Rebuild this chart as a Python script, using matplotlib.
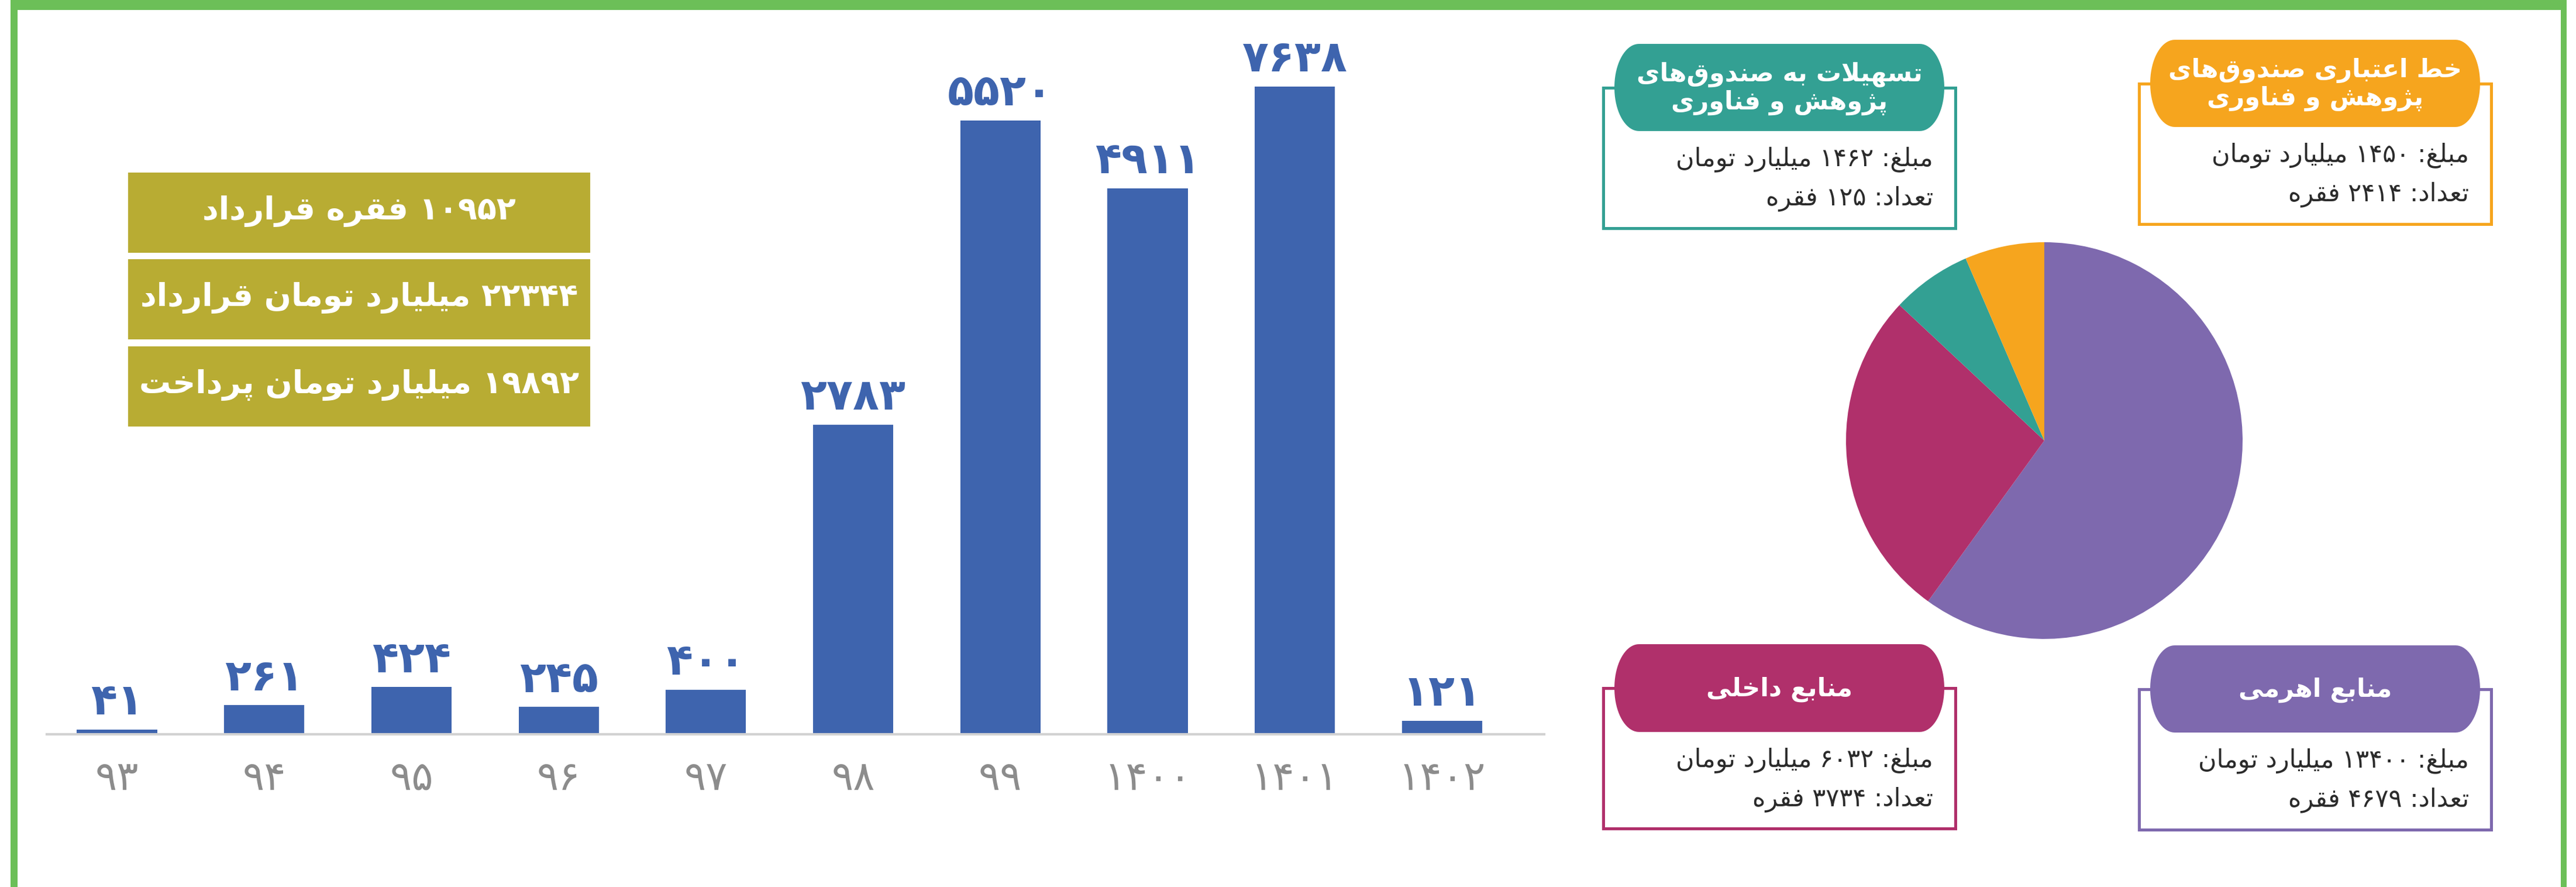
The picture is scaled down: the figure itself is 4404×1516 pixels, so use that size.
import re
import unicodedata
import numpy as np
import matplotlib
matplotlib.use("Agg")
import matplotlib.pyplot as plt
from matplotlib.patches import Rectangle, Polygon

# ---- data ----
years = [93, 94, 95, 96, 97, 98, 99, 1400, 1401, 1402]
contracts = [41, 261, 424, 245, 400, 2783, 5520, 4911, 7638, 121]

summary_lines = ["۱۰۹۵۲ فقره قرارداد",
                 "۲۲۳۴۴ میلیارد تومان قرارداد",
                 "۱۹۸۹۲ میلیارد تومان پرداخت"]

sources = ["منابع اهرمی", "منابع داخلی",
           "تسهیلات به صندوق‌های\nپژوهش و فناوری",
           "خط اعتباری صندوق‌های\nپژوهش و فناوری"]
amounts = [13400, 6032, 1462, 1450]
counts = [4679, 3734, 125, 2414]
colors = ["#7E69AE", "#B0306B", "#33A093", "#F6A51E"]

BAR_COLOR = "#3E64AE"
OLIVE = "#B8AC33"
GREEN = "#6CBF58"
FA_DIGITS = str.maketrans("0123456789", "۰۱۲۳۴۵۶۷۸۹")

# letters that never connect to the following letter
NO_LEFT = set("اآأإدذرزژوؤة")


def is_letter(ch):
    return unicodedata.name(ch, "").startswith("ARABIC LETTER")


def pres_form(ch, form):
    try:
        return unicodedata.lookup(unicodedata.name(ch) + " " + form + " FORM")
    except KeyError:
        return ch


def shape_line(text):
    out = []
    i, n = 0, len(text)
    while i < n:
        ch = text[i]
        if not is_letter(ch):
            if ch != "\u200c":
                out.append(ch)
            i += 1
            continue
        prev = text[i - 1] if i > 0 else ""
        jp = bool(prev) and is_letter(prev) and prev not in NO_LEFT
        if ch == "ل" and i + 1 < n and text[i + 1] == "ا":
            f = "FINAL" if jp else "ISOLATED"
            out.append(unicodedata.lookup("ARABIC LIGATURE LAM WITH ALEF " + f + " FORM"))
            i += 2
            continue
        nxt = text[i + 1] if i + 1 < n else ""
        jn = bool(nxt) and is_letter(nxt) and ch not in NO_LEFT
        if jp and jn:
            f = "MEDIAL"
        elif jn:
            f = "INITIAL"
        elif jp:
            f = "FINAL"
        else:
            f = "ISOLATED"
        out.append(pres_form(ch, f))
        i += 1
    s = "".join(out)[::-1]
    # numbers keep left-to-right order
    return re.sub(r"[۰-۹0-9]+", lambda m: m.group(0)[::-1], s)


def fa(text):
    return "\n".join(shape_line(t) for t in text.split("\n"))


def fa_num(v):
    return str(v).translate(FA_DIGITS)


def pill(x0, y0, w, h, rx, color):
    # flat top/bottom, elliptical left and right ends
    t = np.linspace(-np.pi / 2, np.pi / 2, 40)
    ry = h / 2
    cyy = y0 + ry
    right = np.column_stack([x0 + w - rx + rx * np.cos(t), cyy + ry * np.sin(t)])
    left = np.column_stack([x0 + rx - rx * np.cos(t[::-1]), cyy + ry * np.sin(t[::-1])])
    return Polygon(np.vstack([right, left]), closed=True, facecolor=color, lw=0)


W, H = 4404, 1516
fig = plt.figure(figsize=(W / 100, H / 100), dpi=100)
fig.patch.set_facecolor("white")

# ---- bar chart ----
ax = fig.add_axes([80 / W, 1 - 1255 / H, (2640 - 80) / W, (1255 - 148) / H])
ax.patch.set_alpha(0)
x = list(range(len(years)))
ymax = 5826
ax.bar(x, contracts, width=0.545, color=BAR_COLOR)
ax.set_xlim(-0.477, 9.694)
ax.set_ylim(0, ymax)
for xi, v in zip(x, contracts):
    ax.annotate(fa_num(v), (xi, min(v, ymax)), xytext=(0, 7), textcoords="offset points",
                ha="center", va="bottom", fontsize=53, fontweight="bold",
                color=BAR_COLOR, annotation_clip=False)
ax.set_xticks(x)
ax.set_xticklabels([fa_num(y) for y in years], fontsize=50, color="#8C8C8C")
ax.tick_params(axis="x", length=0, pad=30)
ax.set_yticks([])
for s in ["left", "right", "top"]:
    ax.spines[s].set_visible(False)
ax.spines["bottom"].set_color("#D2D2D2")
ax.spines["bottom"].set_linewidth(3)

# ---- pie ----
cx, cy, r = 3495, 753, 339
pax = fig.add_axes([(cx - r) / W, 1 - (cy + r) / H, 2 * r / W, 2 * r / H])
pax.pie(amounts, colors=colors, startangle=90, counterclock=False,
        wedgeprops=dict(linewidth=0))
pax.set_xlim(-1, 1)
pax.set_ylim(-1, 1)
pax.set_aspect("equal")

# ---- overlay in pixel coordinates ----
ov = fig.add_axes([0, 0, 1, 1], zorder=5)
ov.set_xlim(0, W)
ov.set_ylim(H, 0)
ov.axis("off")
ov.patch.set_alpha(0)

# green frame
ov.add_patch(Rectangle((18, 0), 4388 - 18, 17, color=GREEN, lw=0))
ov.add_patch(Rectangle((18, 0), 12, H, color=GREEN, lw=0))
ov.add_patch(Rectangle((4378, 0), 10, H, color=GREEN, lw=0))

# olive summary boxes
box_tops = [295, 443, 592]
for top, line in zip(box_tops, summary_lines):
    ov.add_patch(Rectangle((219, top), 1009 - 219, 137, color=OLIVE, lw=0))
    ov.text(614, top + 66, fa(line), ha="center", va="center",
            fontsize=39, fontweight="bold", color="white")

# legend cards: (left, header top, header bottom, body bottom)
cards = [(3657, 1103, 1252, 1418),   # purple
         (2741, 1101, 1251, 1416),   # magenta
         (2741, 75, 224, 390),       # teal
         (3657, 68, 217, 383)]       # orange
for (left, htop, hbot, bbot), name, amt, cnt, col in zip(cards, sources, amounts, counts, colors):
    bw = 602
    mid = (htop + hbot) / 2
    ov.add_patch(Rectangle((left, mid), bw, bbot - mid, facecolor="white",
                           edgecolor=col, lw=3.6))
    hl = left + 19
    hw = bw - 38
    ov.add_patch(pill(hl, htop, hw, hbot - htop, 42, col))
    ov.text(hl + hw / 2, mid + 2, fa(name), ha="center", va="center",
            fontsize=31, fontweight="bold", color="white", linespacing=1.15)
    body = "مبلغ: " + fa_num(amt) + " میلیارد تومان\n" + "تعداد: " + fa_num(cnt) + " فقره"
    ov.text(left + bw - 38, hbot + 82, fa(body), ha="right", va="center",
            fontsize=31, color="#2B2B2B", linespacing=1.7)

fig.savefig("out.png", dpi=100, facecolor="white")
